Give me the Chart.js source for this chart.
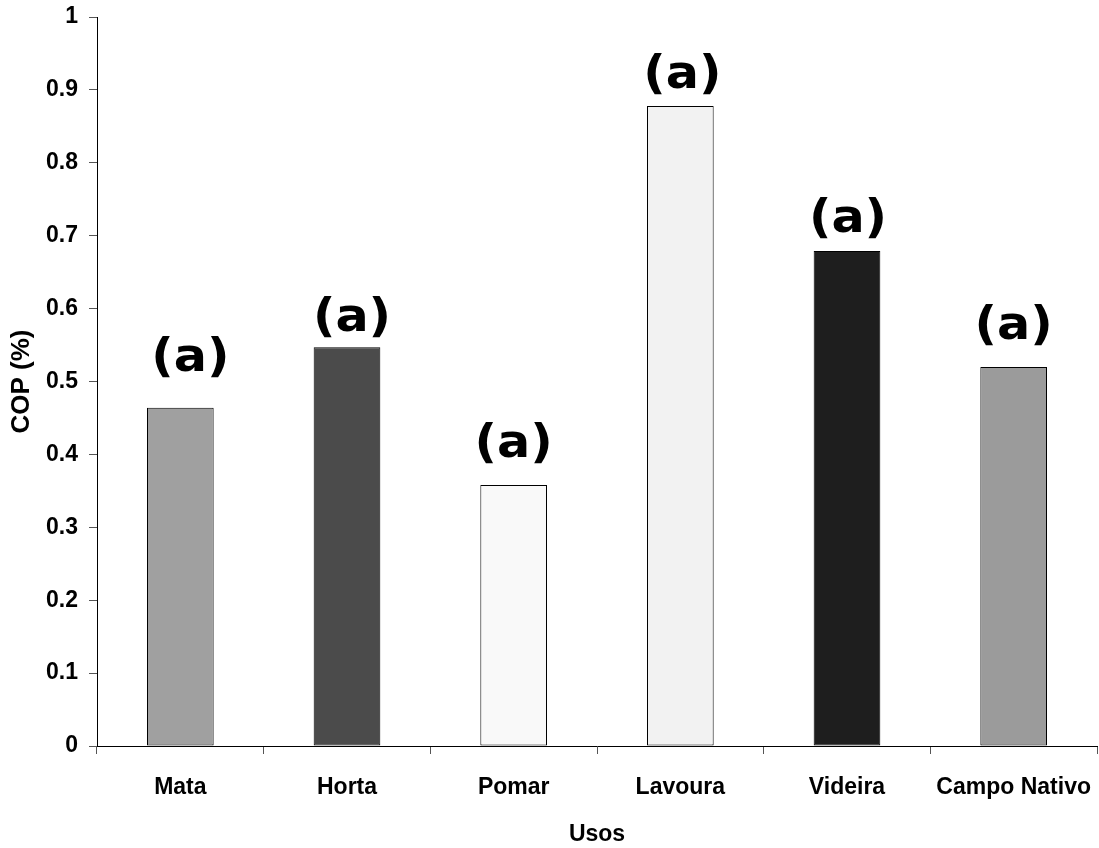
<!DOCTYPE html>
<html>
<head>
<meta charset="utf-8">
<title>COP por uso do solo</title>
<script src="https://cdn.jsdelivr.net/npm/chart.js@4.4.1/dist/chart.umd.min.js"></script>
<style>
  html, body { margin: 0; padding: 0; background: #ffffff; }
  #wrap { width: 1099px; height: 848px; }
</style>
</head>
<body>
<div id="wrap"><canvas id="c" width="1099" height="848"></canvas></div>
<script>
// Land uses and their COP values
const usos = ['Mata', 'Horta', 'Pomar', 'Lavoura', 'Videira', 'Campo Nativo'];
const cop = [0.464, 0.547, 0.358, 0.878, 0.679, 0.520];
// Significance letters shown above each bar
const letras = ['a', 'a', 'a', 'a', 'a', 'a'];
// Y axis tick values
const yTicks = [0, 0.1, 0.2, 0.3, 0.4, 0.5, 0.6, 0.7, 0.8, 0.9, 1];

// Bar fills
const fills = ['#a0a0a0', '#4b4b4b', '#f9f9f9', '#f2f2f2', '#1e1e1e', '#9b9b9b'];
// Label placement: gap above bar top and small horizontal nudges (px)
const letterGap = [31, 10, 22, 12, 13, 22];
const letterShift = [10, 5, 0, 2, 1, 0];

const letterPlugin = {
  id: 'letterLabels',
  afterDatasetsDraw(chart) {
    const ctx = chart.ctx;
    const meta = chart.getDatasetMeta(0);
    const size = 46;
    ctx.save();
    ctx.font = 'bold ' + size + 'px "DejaVu Sans", sans-serif';
    ctx.fillStyle = '#000000';
    ctx.textAlign = 'center';
    ctx.textBaseline = 'alphabetic';
    meta.data.forEach((bar, i) => {
      const x = bar.x + letterShift[i];
      const y = bar.y - letterGap[i] - size * 0.13;
      ctx.save();
      ctx.translate(x, y);
      ctx.scale(1.07, 1);
      ctx.fillText('(' + letras[i] + ')', 0, 0);
      ctx.restore();
    });
    ctx.restore();
  }
};

Chart.defaults.font.family = '"Liberation Sans", Arial, sans-serif';
Chart.defaults.font.weight = 'bold';
Chart.defaults.color = '#000000';

new Chart(document.getElementById('c'), {
  type: 'bar',
  data: {
    labels: usos,
    datasets: [{
      data: cop,
      backgroundColor: fills,
      borderColor: '#000000',
      borderWidth: 1,
      borderSkipped: false,
      categoryPercentage: 1.0,
      barPercentage: 0.4
    }]
  },
  options: {
    responsive: false,
    animation: false,
    layout: { padding: { top: 17, right: 2, left: 0, bottom: 0 } },
    plugins: {
      legend: { display: false },
      tooltip: { enabled: false }
    },
    scales: {
      x: {
        offset: true,
        grid: {
          display: true,
          offset: true,
          drawOnChartArea: false,
          drawTicks: true,
          tickLength: 8,
          color: '#555555'
        },
        border: { display: true, color: '#000000', width: 1 },
        ticks: {
          font: { size: 23, weight: 'bold' },
          color: '#000000',
          padding: 20,
          maxRotation: 0,
          autoSkip: false
        },
        title: {
          display: true,
          text: 'Usos',
          font: { size: 23, weight: 'bold' },
          color: '#000000',
          padding: { top: 0, bottom: 0 }
        },
        afterFit(scale) {
          scale.height = 102;
          scale.paddingLeft = 0;
          scale.paddingRight = 0;
        }
      },
      y: {
        min: 0,
        max: 1,
        afterBuildTicks(scale) {
          scale.ticks = yTicks.map(v => ({ value: v }));
        },
        grid: {
          display: true,
          drawOnChartArea: false,
          drawTicks: true,
          tickLength: 8,
          color: '#555555'
        },
        border: { display: true, color: '#000000', width: 1 },
        ticks: {
          font: { size: 23, weight: 'bold' },
          color: '#000000',
          padding: 11,
          callback: v => String(Math.round(v * 10) / 10)
        },
        title: {
          display: true,
          text: 'COP (%)',
          font: { size: 26, weight: 'bold' },
          color: '#000000',
          padding: { top: 6, bottom: 0 }
        },
        afterFit(scale) {
          scale.width = 97;
          scale.paddingTop = 0;
          scale.paddingBottom = 0;
        }
      }
    }
  },
  plugins: [letterPlugin]
});
</script>
</body>
</html>
